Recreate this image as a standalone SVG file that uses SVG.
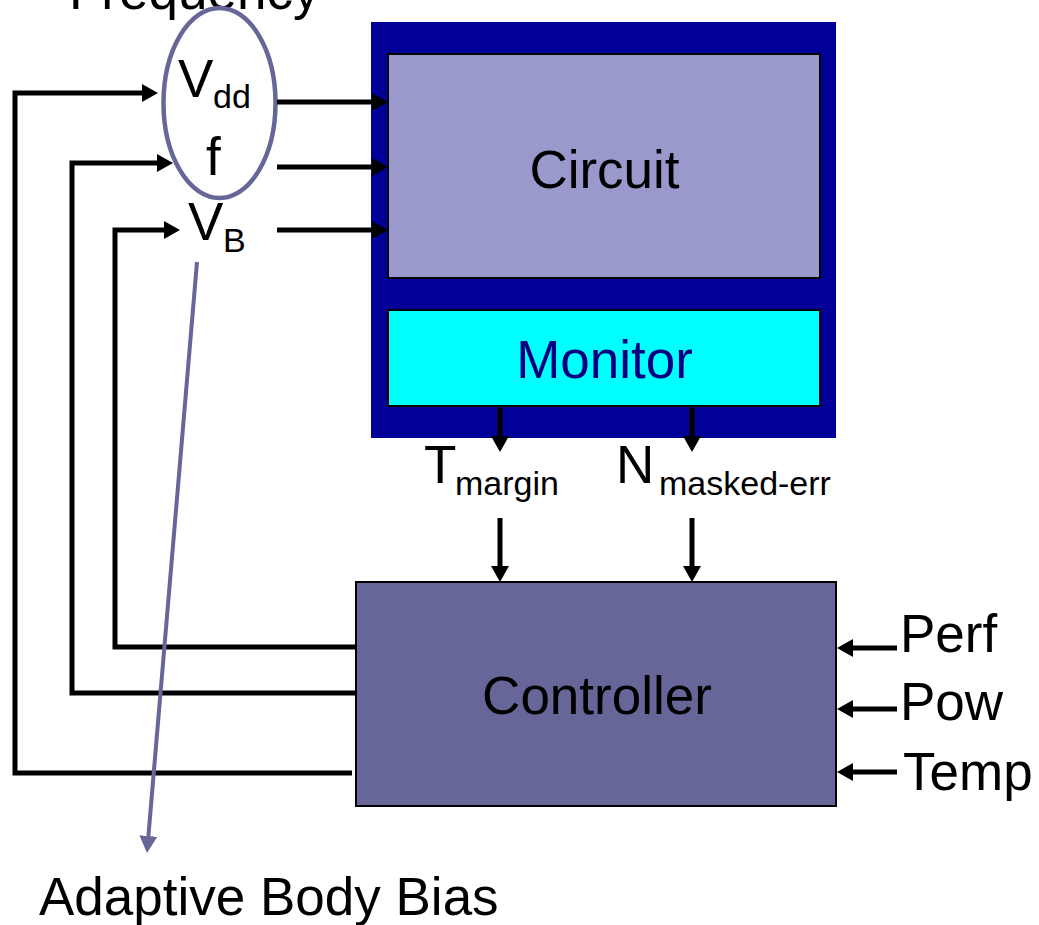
<svg xmlns="http://www.w3.org/2000/svg" width="1039" height="925" viewBox="0 0 1039 925">
<style>
  text { font-family: "Liberation Sans", Arial, sans-serif; font-size: 53px; fill: #000; }
  .sub { font-size: 34px; }
  .wire { fill: none; stroke: #000; stroke-width: 5; }
  .bias { fill: none; stroke: #666699; stroke-width: 4; }
</style>
<defs>
  <marker id="ah" markerUnits="userSpaceOnUse" markerWidth="16" markerHeight="18" refX="0" refY="9" orient="auto" viewBox="0 0 16 18">
    <path d="M0,0 L16,9 L0,18 z" fill="#000"/>
  </marker>
  <marker id="ahp" markerUnits="userSpaceOnUse" markerWidth="18" markerHeight="18" refX="0" refY="9" orient="auto" viewBox="0 0 18 18">
    <path d="M0,0 L17,9 L0,18 z" fill="#666699"/>
  </marker>
</defs>
<rect width="1039" height="925" fill="#fff"/>

<g id="frequency-label">
  <text x="69" y="9">Frequency</text>
</g>

<g id="block">
  <rect x="371" y="22" width="465" height="416" fill="#000099"/>
</g>
<g id="circuit">
  <rect x="388" y="54" width="432" height="224" fill="#9999CC" stroke="#000" stroke-width="2"/>
  <text x="604.5" y="188" text-anchor="middle">Circuit</text>
</g>
<g id="monitor">
  <rect x="388" y="310" width="432" height="96" fill="#00FFFF" stroke="#000" stroke-width="2"/>
  <text x="604.5" y="378" text-anchor="middle" style="fill:#000080">Monitor</text>
</g>
<g id="controller">
  <rect x="356" y="582" width="480" height="224" fill="#666699" stroke="#000" stroke-width="2"/>
  <text x="597" y="714" text-anchor="middle">Controller</text>
</g>

<g id="knobs">
  <ellipse cx="219.5" cy="103" rx="56" ry="95" fill="none" stroke="#666699" stroke-width="4.5"/>
  <text x="178" y="97">V<tspan class="sub" x="213" y="108">dd</tspan></text>
  <text x="206" y="175">f</text>
  <text x="188" y="240">V<tspan class="sub" x="223" y="252">B</tspan></text>
</g>

<g id="labels">
  <text x="424" y="483">T<tspan class="sub" x="455" y="495">margin</tspan></text>
  <text x="616" y="483">N<tspan class="sub" x="659" y="495">masked-err</tspan></text>
  <text x="900" y="652">Perf</text>
  <text x="900" y="720">Pow</text>
  <text x="903" y="790">Temp</text>
  <text x="39" y="915">Adaptive Body Bias</text>
</g>

<g id="connectors">
  <path class="wire" d="M352,773 H15 V93 H142" marker-end="url(#ah)"/>
  <path class="wire" d="M356,693 H72 V163 H157" marker-end="url(#ah)"/>
  <path class="wire" d="M356,647 H115 V230 H164" marker-end="url(#ah)"/>
  <path class="wire" d="M277,102 H372" marker-end="url(#ah)"/>
  <path class="wire" d="M277,167 H372" marker-end="url(#ah)"/>
  <path class="wire" d="M277,230 H372" marker-end="url(#ah)"/>
  <path class="wire" d="M500,406 V436" marker-end="url(#ah)"/>
  <path class="wire" d="M692,406 V436" marker-end="url(#ah)"/>
  <path class="wire" d="M500,518 V566" marker-end="url(#ah)"/>
  <path class="wire" d="M692,518 V566" marker-end="url(#ah)"/>
  <path class="wire" d="M897,648 H853" marker-end="url(#ah)"/>
  <path class="wire" d="M897,709 H853" marker-end="url(#ah)"/>
  <path class="wire" d="M897,772 H853" marker-end="url(#ah)"/>
  <path class="bias" d="M197,262 L148.4,836" marker-end="url(#ahp)"/>
</g>
</svg>
